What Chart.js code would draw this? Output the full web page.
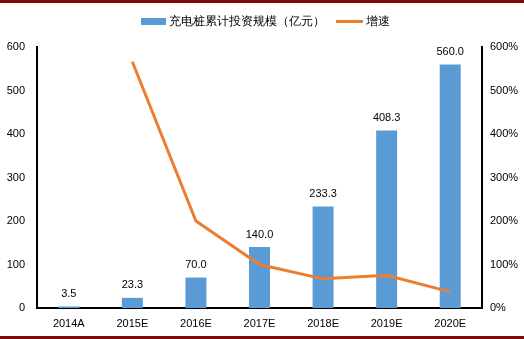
<!DOCTYPE html>
<html>
<head>
<meta charset="utf-8">
<script src="https://cdn.jsdelivr.net/npm/chart.js@4"></script>
<style>
  html, body { margin: 0; padding: 0; background: #fff; }
  #wrap { width: 524px; height: 339px; position: relative; }
</style>
</head>
<body>
<div id="wrap"><canvas id="myChart" width="524" height="339"></canvas></div>
<script>
const years = ["2014A", "2015E", "2016E", "2017E", "2018E", "2019E", "2020E"];
const investment = [3.5, 23.3, 70.0, 140.0, 233.3, 408.3, 560.0];
const growth = [null, 566, 200, 100, 67, 75, 37];
const leftTicks = [0, 100, 200, 300, 400, 500, 600];
const rightTicks = [0, 100, 200, 300, 400, 500, 600];

const barColor = '#5B9BD5';
const lineColor = '#ED7D31';
const font = '"Liberation Sans", Arial, sans-serif';

// labels over bars, legend and the dark red rules
const extras = {
  id: 'extras',
  afterDatasetsDraw(chart) {
    const ctx = chart.ctx;
    const meta = chart.getDatasetMeta(1);
    ctx.save();
    ctx.font = '11px ' + font;
    ctx.fillStyle = '#000';
    ctx.textAlign = 'center';
    ctx.textBaseline = 'bottom';
    meta.data.forEach((bar, i) => {
      ctx.fillText(investment[i].toFixed(1), bar.x, bar.y - 7);
    });
    ctx.restore();
  },
  afterDraw(chart) {
    const ctx = chart.ctx;
    ctx.save();
    ctx.fillStyle = '#7F0A0A';
    ctx.fillRect(0, 0, 524, 3);
    ctx.fillRect(0, 336, 524, 3);
    // legend
    ctx.font = '12px ' + font;
    ctx.fillStyle = barColor;
    ctx.fillRect(141, 18, 25, 7);
    ctx.fillStyle = lineColor;
    ctx.fillRect(336, 20, 27, 3);
    ctx.fillStyle = '#000';
    ctx.textBaseline = 'middle';
    ctx.textAlign = 'left';
    ctx.fillText('充电桩累计投资规模（亿元）', 169, 22);
    ctx.fillText('增速', 366, 22);
    ctx.restore();
  }
};

const ctx = document.getElementById('myChart').getContext('2d');
const mychart = new Chart(ctx, {
  data: {
    labels: years,
    datasets: [{
      type: 'line',
      label: '增速',
      data: growth,
      yAxisID: 'y2',
      borderColor: lineColor,
      backgroundColor: lineColor,
      borderWidth: 3,
      pointRadius: 0,
      tension: 0,
      order: 0
    }, {
      type: 'bar',
      label: '充电桩累计投资规模（亿元）',
      data: investment,
      yAxisID: 'y',
      backgroundColor: barColor,
      barPercentage: 0.33,
      categoryPercentage: 1,
      order: 1
    }]
  },
  options: {
    responsive: false,
    animation: false,
    layout: { padding: { top: 47, left: 0, right: 0, bottom: 0 } },
    plugins: { legend: { display: false }, tooltip: { enabled: false } },
    scales: {
      x: {
        grid: { display: false, drawTicks: false },
        border: { color: '#000', width: 2 },
        ticks: { color: '#000', font: { family: font, size: 11 }, padding: 9 },
        afterFit(s) { s.height = 31; }
      },
      y: {
        position: 'left',
        min: 0, max: 600,
        afterBuildTicks(s) { s.ticks = leftTicks.map(v => ({ value: v })); },
        grid: { display: false, drawTicks: false },
        border: { color: '#000', width: 2 },
        ticks: { color: '#000', font: { family: font, size: 11 }, padding: 12 },
        afterFit(s) { s.width = 37; }
      },
      y2: {
        position: 'right',
        min: 0, max: 600,
        afterBuildTicks(s) { s.ticks = rightTicks.map(v => ({ value: v })); },
        grid: { display: false, drawTicks: false },
        border: { color: '#000', width: 2 },
        ticks: { color: '#000', font: { family: font, size: 11 }, padding: 8, callback: v => v + '%' },
        afterFit(s) { s.width = 42; }
      }
    }
  },
  plugins: [extras]
});
</script>
</body>
</html>
